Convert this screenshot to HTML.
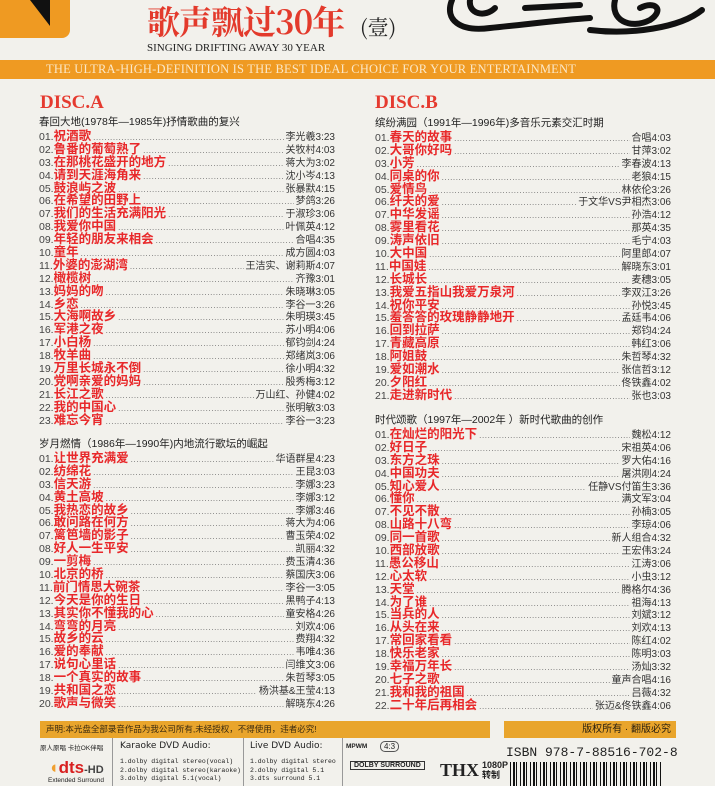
<!DOCTYPE html>
<html><head><meta charset="utf-8"><style>
*{margin:0;padding:0;box-sizing:border-box}
body{width:715px;height:786px;background:#f2f1ec;position:relative;overflow:hidden;font-family:"Liberation Sans","Noto Sans CJK SC",sans-serif;color:#333}
.abs{position:absolute}
.list{position:absolute;width:296px}
.hd{font-size:10.5px;height:14px;line-height:14px;color:#222;white-space:nowrap}
.r{display:flex;height:12.9px;line-height:12.9px;font-size:10px;white-space:nowrap;align-items:baseline}
.n{color:#444;font-size:10.5px}
.t{color:#e8282a;font-weight:bold;font-size:12.5px;font-family:"Noto Sans CJK SC",sans-serif}
.d{flex:1;overflow:hidden;color:#666;font-size:8px;margin:0 2px;letter-spacing:0.6px}
.d:before{content:"........................................................................................................................................................................"}
.a{color:#333;font-size:10px}
.disc{position:absolute;font-family:"Liberation Serif",serif;font-weight:bold;color:#e53a2f;font-size:19px}
</style></head><body>
<div class="abs" style="left:0;top:0;width:70px;height:38px;background:#ef9a22;border-radius:0 0 8px 0"></div>
<div class="abs" style="left:30px;top:0;width:20px;height:26px;background:#111;clip-path:polygon(0 0,100% 0,100% 100%)"></div>
<svg class="abs" style="left:440px;top:0" width="275" height="50"><g fill="none" stroke="#111" stroke-width="6" stroke-linecap="round">
<path d="M12 0 C4 20,20 32,50 28 C90 24,120 20,150 18"/><path d="M30 0 C28 14,45 18,55 8"/><path d="M85 8 L140 5"/><path d="M175 0 C170 20,190 30,210 20 C225 10,215 0,200 8"/><path d="M150 30 C190 35,240 28,262 10"/></g></svg>
<div class="abs" style="left:147px;top:1px;font-size:33px;font-weight:bold;color:#e33a2c;font-family:'Noto Serif CJK SC',serif;letter-spacing:-1px;line-height:40px">歌声飘过30年</div>
<div class="abs" style="left:360px;top:14px;font-size:21px;color:#222;font-family:'Noto Serif CJK SC',serif;line-height:26px">(壹)</div>
<div class="abs" style="left:147px;top:41px;font-size:11px;color:#222;font-family:'Liberation Serif',serif;line-height:14px">SINGING DRIFTING AWAY 30 YEAR</div>
<div class="abs" style="left:0;top:60px;width:715px;height:19px;background:#ef9a22;color:#fbe8c8;font-family:'Liberation Serif',serif;font-size:12.5px;line-height:19px;padding-left:46px;letter-spacing:.2px">THE ULTRA-HIGH-DEFINITION IS THE BEST IDEAL CHOICE FOR YOUR ENTERTAINMENT</div>
<div class="disc" style="left:40px;top:92px">DISC.A</div>
<div class="disc" style="left:375px;top:92px">DISC.B</div>

<div class="list" style="left:39px;top:115px">
<div class="hd">春回大地(1978年—1985年)抒情歌曲的复兴</div>
<div class="r"><span class="n">01.</span><span class="t">祝酒歌</span><span class="d"></span><span class="a">李光羲3:23</span></div>
<div class="r"><span class="n">02.</span><span class="t">鲁番的葡萄熟了</span><span class="d"></span><span class="a">关牧村4:03</span></div>
<div class="r"><span class="n">03.</span><span class="t">在那桃花盛开的地方</span><span class="d"></span><span class="a">蒋大为3:02</span></div>
<div class="r"><span class="n">04.</span><span class="t">请到天涯海角来</span><span class="d"></span><span class="a">沈小岑4:13</span></div>
<div class="r"><span class="n">05.</span><span class="t">鼓浪屿之波</span><span class="d"></span><span class="a">张暴默4:15</span></div>
<div class="r"><span class="n">06.</span><span class="t">在希望的田野上</span><span class="d"></span><span class="a">梦鸽3:26</span></div>
<div class="r"><span class="n">07.</span><span class="t">我们的生活充满阳光</span><span class="d"></span><span class="a">于淑珍3:06</span></div>
<div class="r"><span class="n">08.</span><span class="t">我爱你中国</span><span class="d"></span><span class="a">叶佩英4:12</span></div>
<div class="r"><span class="n">09.</span><span class="t">年轻的朋友来相会</span><span class="d"></span><span class="a">合唱4:35</span></div>
<div class="r"><span class="n">10.</span><span class="t">童年</span><span class="d"></span><span class="a">成方圆4:03</span></div>
<div class="r"><span class="n">11.</span><span class="t">外婆的澎湖湾</span><span class="d"></span><span class="a">王洁实、谢莉斯4:07</span></div>
<div class="r"><span class="n">12.</span><span class="t">橄榄树</span><span class="d"></span><span class="a">齐豫3:01</span></div>
<div class="r"><span class="n">13.</span><span class="t">妈妈的吻</span><span class="d"></span><span class="a">朱晓琳3:05</span></div>
<div class="r"><span class="n">14.</span><span class="t">乡恋</span><span class="d"></span><span class="a">李谷一3:26</span></div>
<div class="r"><span class="n">15.</span><span class="t">大海啊故乡</span><span class="d"></span><span class="a">朱明瑛3:45</span></div>
<div class="r"><span class="n">16.</span><span class="t">军港之夜</span><span class="d"></span><span class="a">苏小明4:06</span></div>
<div class="r"><span class="n">17.</span><span class="t">小白杨</span><span class="d"></span><span class="a">郁钧剑4:24</span></div>
<div class="r"><span class="n">18.</span><span class="t">牧羊曲</span><span class="d"></span><span class="a">郑绪岚3:06</span></div>
<div class="r"><span class="n">19.</span><span class="t">万里长城永不倒</span><span class="d"></span><span class="a">徐小明4:32</span></div>
<div class="r"><span class="n">20.</span><span class="t">党啊亲爱的妈妈</span><span class="d"></span><span class="a">殷秀梅3:12</span></div>
<div class="r"><span class="n">21.</span><span class="t">长江之歌</span><span class="d"></span><span class="a">万山红、孙健4:02</span></div>
<div class="r"><span class="n">22.</span><span class="t">我的中国心</span><span class="d"></span><span class="a">张明敏3:03</span></div>
<div class="r"><span class="n">23.</span><span class="t">难忘今宵</span><span class="d"></span><span class="a">李谷一3:23</span></div>
</div>

<div class="list" style="left:39px;top:437px">
<div class="hd">岁月燃情（1986年—1990年)内地流行歌坛的崛起</div>
<div class="r"><span class="n">01.</span><span class="t">让世界充满爱</span><span class="d"></span><span class="a">华语群星4:23</span></div>
<div class="r"><span class="n">02.</span><span class="t">纺绵花</span><span class="d"></span><span class="a">王昆3:03</span></div>
<div class="r"><span class="n">03.</span><span class="t">信天游</span><span class="d"></span><span class="a">李娜3:23</span></div>
<div class="r"><span class="n">04.</span><span class="t">黄土高坡</span><span class="d"></span><span class="a">李娜3:12</span></div>
<div class="r"><span class="n">05.</span><span class="t">我热恋的故乡</span><span class="d"></span><span class="a">李娜3:46</span></div>
<div class="r"><span class="n">06.</span><span class="t">敢问路在何方</span><span class="d"></span><span class="a">蒋大为4:06</span></div>
<div class="r"><span class="n">07.</span><span class="t">篱笆墙的影子</span><span class="d"></span><span class="a">曹玉荣4:02</span></div>
<div class="r"><span class="n">08.</span><span class="t">好人一生平安</span><span class="d"></span><span class="a">凯丽4:32</span></div>
<div class="r"><span class="n">09.</span><span class="t">一剪梅</span><span class="d"></span><span class="a">费玉清4:36</span></div>
<div class="r"><span class="n">10.</span><span class="t">北京的桥</span><span class="d"></span><span class="a">蔡国庆3:06</span></div>
<div class="r"><span class="n">11.</span><span class="t">前门情思大碗茶</span><span class="d"></span><span class="a">李谷一3:05</span></div>
<div class="r"><span class="n">12.</span><span class="t">今天是你的生日</span><span class="d"></span><span class="a">黑鸭子4:13</span></div>
<div class="r"><span class="n">13.</span><span class="t">其实你不懂我的心</span><span class="d"></span><span class="a">童安格4:26</span></div>
<div class="r"><span class="n">14.</span><span class="t">弯弯的月亮</span><span class="d"></span><span class="a">刘欢4:06</span></div>
<div class="r"><span class="n">15.</span><span class="t">故乡的云</span><span class="d"></span><span class="a">费翔4:32</span></div>
<div class="r"><span class="n">16.</span><span class="t">爱的奉献</span><span class="d"></span><span class="a">韦唯4:36</span></div>
<div class="r"><span class="n">17.</span><span class="t">说句心里话</span><span class="d"></span><span class="a">闫维文3:06</span></div>
<div class="r"><span class="n">18.</span><span class="t">一个真实的故事</span><span class="d"></span><span class="a">朱哲琴3:05</span></div>
<div class="r"><span class="n">19.</span><span class="t">共和国之恋</span><span class="d"></span><span class="a">杨洪基&amp;王莹4:13</span></div>
<div class="r"><span class="n">20.</span><span class="t">歌声与微笑</span><span class="d"></span><span class="a">解晓东4:26</span></div>
</div>

<div class="list" style="left:375px;top:116px">
<div class="hd">缤纷满园（1991年—1996年)多音乐元素交汇时期</div>
<div class="r"><span class="n">01.</span><span class="t">春天的故事</span><span class="d"></span><span class="a">合唱4:03</span></div>
<div class="r"><span class="n">02.</span><span class="t">大哥你好吗</span><span class="d"></span><span class="a">甘萍3:02</span></div>
<div class="r"><span class="n">03.</span><span class="t">小芳</span><span class="d"></span><span class="a">李春波4:13</span></div>
<div class="r"><span class="n">04.</span><span class="t">同桌的你</span><span class="d"></span><span class="a">老狼4:15</span></div>
<div class="r"><span class="n">05.</span><span class="t">爱情鸟</span><span class="d"></span><span class="a">林依伦3:26</span></div>
<div class="r"><span class="n">06.</span><span class="t">纤夫的爱</span><span class="d"></span><span class="a">于文华VS尹相杰3:06</span></div>
<div class="r"><span class="n">07.</span><span class="t">中华发谣</span><span class="d"></span><span class="a">孙浩4:12</span></div>
<div class="r"><span class="n">08.</span><span class="t">雾里看花</span><span class="d"></span><span class="a">那英4:35</span></div>
<div class="r"><span class="n">09.</span><span class="t">涛声依旧</span><span class="d"></span><span class="a">毛宁4:03</span></div>
<div class="r"><span class="n">10.</span><span class="t">大中国</span><span class="d"></span><span class="a">阿里郎4:07</span></div>
<div class="r"><span class="n">11.</span><span class="t">中国娃</span><span class="d"></span><span class="a">解晓东3:01</span></div>
<div class="r"><span class="n">12.</span><span class="t">长城长</span><span class="d"></span><span class="a">麦穗3:05</span></div>
<div class="r"><span class="n">13.</span><span class="t">我爱五指山我爱万泉河</span><span class="d"></span><span class="a">李双江3:26</span></div>
<div class="r"><span class="n">14.</span><span class="t">祝你平安</span><span class="d"></span><span class="a">孙悦3:45</span></div>
<div class="r"><span class="n">15.</span><span class="t">羞答答的玫瑰静静地开</span><span class="d"></span><span class="a">孟廷韦4:06</span></div>
<div class="r"><span class="n">16.</span><span class="t">回到拉萨</span><span class="d"></span><span class="a">郑钧4:24</span></div>
<div class="r"><span class="n">17.</span><span class="t">青藏高原</span><span class="d"></span><span class="a">韩红3:06</span></div>
<div class="r"><span class="n">18.</span><span class="t">阿姐鼓</span><span class="d"></span><span class="a">朱哲琴4:32</span></div>
<div class="r"><span class="n">19.</span><span class="t">爱如潮水</span><span class="d"></span><span class="a">张信哲3:12</span></div>
<div class="r"><span class="n">20.</span><span class="t">夕阳红</span><span class="d"></span><span class="a">佟铁鑫4:02</span></div>
<div class="r"><span class="n">21.</span><span class="t">走进新时代</span><span class="d"></span><span class="a">张也3:03</span></div>
</div>

<div class="list" style="left:375px;top:413px">
<div class="hd">时代颂歌（1997年—2002年 ）新时代歌曲的创作</div>
<div class="r"><span class="n">01.</span><span class="t">在灿烂的阳光下</span><span class="d"></span><span class="a">魏松4:12</span></div>
<div class="r"><span class="n">02.</span><span class="t">好日子</span><span class="d"></span><span class="a">宋祖英4:06</span></div>
<div class="r"><span class="n">03.</span><span class="t">东方之珠</span><span class="d"></span><span class="a">罗大佑4:16</span></div>
<div class="r"><span class="n">04.</span><span class="t">中国功夫</span><span class="d"></span><span class="a">屠洪刚4:24</span></div>
<div class="r"><span class="n">05.</span><span class="t">知心爱人</span><span class="d"></span><span class="a">任静VS付笛生3:36</span></div>
<div class="r"><span class="n">06.</span><span class="t">懂你</span><span class="d"></span><span class="a">满文军3:04</span></div>
<div class="r"><span class="n">07.</span><span class="t">不见不散</span><span class="d"></span><span class="a">孙楠3:05</span></div>
<div class="r"><span class="n">08.</span><span class="t">山路十八弯</span><span class="d"></span><span class="a">李琼4:06</span></div>
<div class="r"><span class="n">09.</span><span class="t">同一首歌</span><span class="d"></span><span class="a">新人组合4:32</span></div>
<div class="r"><span class="n">10.</span><span class="t">西部放歌</span><span class="d"></span><span class="a">王宏伟3:24</span></div>
<div class="r"><span class="n">11.</span><span class="t">愚公移山</span><span class="d"></span><span class="a">江涛3:06</span></div>
<div class="r"><span class="n">12.</span><span class="t">心太软</span><span class="d"></span><span class="a">小虫3:12</span></div>
<div class="r"><span class="n">13.</span><span class="t">天堂</span><span class="d"></span><span class="a">腾格尔4:36</span></div>
<div class="r"><span class="n">14.</span><span class="t">为了谁</span><span class="d"></span><span class="a">祖海4:13</span></div>
<div class="r"><span class="n">15.</span><span class="t">当兵的人</span><span class="d"></span><span class="a">刘斌3:12</span></div>
<div class="r"><span class="n">16.</span><span class="t">从头在来</span><span class="d"></span><span class="a">刘欢4:13</span></div>
<div class="r"><span class="n">17.</span><span class="t">常回家看看</span><span class="d"></span><span class="a">陈红4:02</span></div>
<div class="r"><span class="n">18.</span><span class="t">快乐老家</span><span class="d"></span><span class="a">陈明3:03</span></div>
<div class="r"><span class="n">19.</span><span class="t">幸福万年长</span><span class="d"></span><span class="a">汤灿3:32</span></div>
<div class="r"><span class="n">20.</span><span class="t">七子之歌</span><span class="d"></span><span class="a">童声合唱4:16</span></div>
<div class="r"><span class="n">21.</span><span class="t">我和我的祖国</span><span class="d"></span><span class="a">吕薇4:32</span></div>
<div class="r"><span class="n">22.</span><span class="t">二十年后再相会</span><span class="d"></span><span class="a">张迈&amp;佟铁鑫4:06</span></div>
</div>

<div class="abs" style="left:40px;top:721px;width:450px;height:17px;background:#e9a52c;font-size:8.5px;line-height:17px;padding-left:6px;color:#3a2a10">声明:本光盘全部录音作品为我公司所有,未经授权，不得使用，违者必究!</div>
<div class="abs" style="left:504px;top:721px;width:172px;height:17px;background:#e9a52c;font-size:10px;line-height:17px;text-align:right;padding-right:5px;color:#2a2010">版权所有 · 翻版必究</div>
<div class="abs" style="left:40px;top:738px;width:450px;height:48px;font-size:8px;color:#222">
<div class="abs" style="left:0;top:4px;width:72px;font-size:6.5px">原人原唱 卡拉OK伴唱</div>
<div class="abs" style="left:0;top:20px;width:72px;font-size:17px;font-weight:bold;color:#d82020;text-align:center"><span style="color:#f0a030">◖</span>dts<span style="font-size:11px;color:#444">-HD</span></div>
<div class="abs" style="left:0;top:39px;width:72px;font-size:6.5px;text-align:center">Extended Surround</div>
<div class="abs" style="left:72px;top:0;width:1px;height:48px;background:#999"></div>
<div class="abs" style="left:80px;top:3px;font-size:9px;font-family:'DejaVu Sans',sans-serif">Karaoke DVD Audio:</div>
<div class="abs" style="left:80px;top:20px;font-size:6.5px;line-height:8.5px;font-family:'Liberation Mono',monospace">1.dolby digital stereo(vocal)<br>2.dolby digital stereo(karaoke)<br>3.dolby digital 5.1(vocal)</div>
<div class="abs" style="left:203px;top:0;width:1px;height:48px;background:#999"></div>
<div class="abs" style="left:210px;top:3px;font-size:9px;font-family:'DejaVu Sans',sans-serif">Live DVD Audio:</div>
<div class="abs" style="left:210px;top:20px;font-size:6.5px;line-height:8.5px;font-family:'Liberation Mono',monospace">1.dolby digital stereo<br>2.dolby digital 5.1<br>3.dts surround 5.1</div>
<div class="abs" style="left:302px;top:0;width:1px;height:48px;background:#999"></div>
<div class="abs" style="left:306px;top:5px;font-size:6.5px;font-weight:bold">MPWM</div>
<div class="abs" style="left:340px;top:3px;border:1px solid #555;border-radius:5px;padding:0 3px;font-size:8px">4:3</div>
<div class="abs" style="left:310px;top:23px;border:1px solid #333;padding:0 3px;font-size:7px;font-weight:bold">DOLBY SURROUND</div>
<div class="abs" style="left:400px;top:22px;font-size:18px;font-weight:bold;font-family:'Liberation Serif',serif">THX</div>
<div class="abs" style="left:442px;top:22px;font-size:9px;font-weight:bold;line-height:10px">1080P<br>转制</div>
</div>
<div class="abs" style="left:506px;top:745px;font-size:13px;font-family:'Liberation Mono',monospace;color:#222">ISBN 978-7-88516-702-8</div>
<div class="abs" style="left:510px;top:762px;width:152px;height:24px;background:repeating-linear-gradient(90deg,#111 0 1px,transparent 1px 3px,#111 3px 5px,transparent 5px 6px,#111 6px 7px,transparent 7px 10px)"></div>
</body></html>
